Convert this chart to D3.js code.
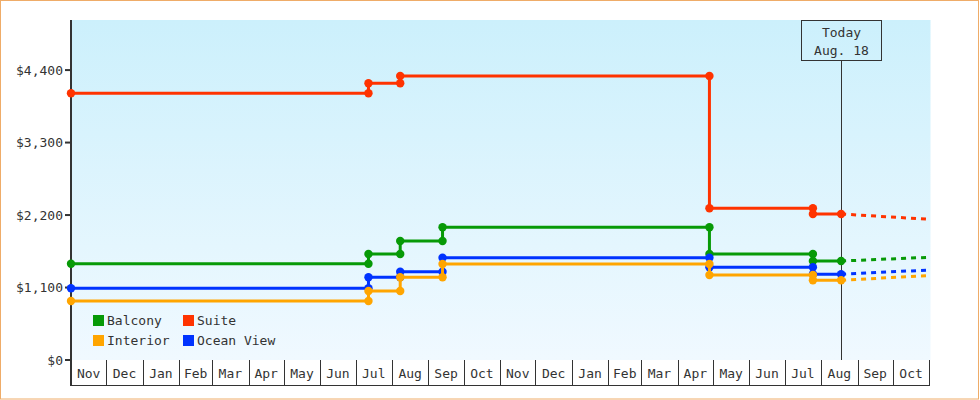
<!DOCTYPE html>
<html>
<head>
<meta charset="utf-8">
<script src="https://cdn.jsdelivr.net/npm/d3@7"></script>
<style>
  html, body { margin: 0; padding: 0; background: #fff; }
  svg { display: block; }
  text { font-family: "DejaVu Sans Mono", monospace; font-size: 13px; fill: #333; }
</style>
</head>
<body>
<svg id="chart" width="980" height="400"></svg>
<script>
// ---- data ----
const axisStart = "2016-11-01";
const axisEnd = "2018-11-01";
const todayDate = "2018-08-18";
const todayLabel = ["Today", "Aug. 18"];
const yTicks = [0, 1100, 2200, 3300, 4400];
const monthLabels = ["Nov","Dec","Jan","Feb","Mar","Apr","May","Jun","Jul","Aug","Sep","Oct",
                     "Nov","Dec","Jan","Feb","Mar","Apr","May","Jun","Jul","Aug","Sep","Oct"];

const seriesNames = ["Balcony", "Suite", "Interior", "Ocean View"];
const seriesColors = ["#079a07", "#ff3300", "#ffa500", "#0033ff"];

// price change dates (value applies from that date on)
const balconyDates = ["2016-11-01","2017-07-12","2017-08-08","2017-09-13","2018-04-28","2018-07-25"];
const balconyValues = [1461, 1609, 1806, 2014, 1609, 1502];
const suiteDates = ["2016-11-01","2017-07-12","2017-08-08","2018-04-28","2018-07-25"];
const suiteValues = [4048, 4199, 4310, 2302, 2216];
const interiorDates = ["2016-11-01","2017-07-12","2017-08-08","2017-09-13","2018-04-28","2018-07-25"];
const interiorValues = [895, 1047, 1255, 1457, 1290, 1210];
const oceanDates = ["2016-11-01","2017-07-12","2017-08-08","2017-09-13","2018-04-28","2018-07-25"];
const oceanValues = [1088, 1255, 1340, 1553, 1407, 1301];

// forecast (dashed) from today to end
const forecastDates = ["2018-08-18", "2018-11-01"];
const forecastBalcony = [1502, 1559];
const forecastSuite = [2216, 2135];
const forecastInterior = [1210, 1282];
const forecastOcean = [1301, 1366];

// ---- chart ----
const parse = d3.utcParse("%Y-%m-%d");
const svg = d3.select("#chart");

const x = d3.scaleUtc().domain([parse(axisStart), parse(axisEnd)]).range([71, 929.3]);
const y = d3.scaleLinear().domain([0, 5160]).range([360, 20]);

// outer border
svg.append("rect").attr("x", 0.5).attr("y", 0.5).attr("width", 978).attr("height", 398.5)
  .attr("fill", "#fff").attr("stroke", "#efac68").attr("stroke-width", 1);

// background gradient
const defs = svg.append("defs");
const grad = defs.append("linearGradient").attr("id", "bg").attr("x1", 0).attr("y1", 0).attr("x2", 0).attr("y2", 1);
grad.append("stop").attr("offset", "0%").attr("stop-color", "#ccf0fc");
grad.append("stop").attr("offset", "100%").attr("stop-color", "#f0f9ff");
svg.append("rect").attr("x", 71).attr("y", y(5160)).attr("width", 930.5 - 71).attr("height", y(0) - y(5160))
  .attr("fill", "url(#bg)");

// month cells
const months = d3.utcMonths(parse(axisStart), parse(axisEnd));
const xa = svg.append("g");
months.forEach((m, i) => {
  const next = d3.utcMonth.offset(m, 1);
  const x0 = x(m), x1 = x(next);
  xa.append("line").attr("x1", Math.round(x0) + 0.5).attr("x2", Math.round(x0) + 0.5)
    .attr("y1", 360).attr("y2", 385).attr("stroke", "#333").attr("stroke-width", 1);
  xa.append("text").attr("x", (x0 + x1) / 2).attr("y", 378).attr("text-anchor", "middle").text(monthLabels[i]);
});
xa.append("line").attr("x1", Math.round(x(parse(axisEnd))) + 0.5).attr("x2", Math.round(x(parse(axisEnd))) + 0.5)
  .attr("y1", 360).attr("y2", 385).attr("stroke", "#333");
xa.append("line").attr("x1", 70).attr("x2", Math.round(x(parse(axisEnd))) + 1)
  .attr("y1", 385.5).attr("y2", 385.5).attr("stroke", "#333");

// y axis
const ya = svg.append("g");
ya.append("line").attr("x1", 71).attr("x2", 71).attr("y1", 20).attr("y2", 385)
  .attr("stroke", "#333").attr("stroke-width", 2);
yTicks.forEach(t => {
  ya.append("line").attr("x1", 65).attr("x2", 71).attr("y1", y(t)).attr("y2", y(t))
    .attr("stroke", "#333").attr("stroke-width", 2);
  ya.append("text").attr("x", 63).attr("y", y(t) + 4.5).attr("text-anchor", "end")
    .text("$" + d3.format(",")(t));
});

// today marker
const tx = Math.round(x(parse(todayDate))) + 0.5;
svg.append("line").attr("x1", tx).attr("x2", tx).attr("y1", 60.5).attr("y2", 360)
  .attr("stroke", "#333").attr("stroke-width", 1);
svg.append("rect").attr("x", 801.5).attr("y", 20.5).attr("width", 80).attr("height", 40)
  .attr("fill", "none").attr("stroke", "#333").attr("stroke-width", 1);
svg.append("text").attr("x", 841.5).attr("y", 37).attr("text-anchor", "middle").text(todayLabel[0]);
svg.append("text").attr("x", 841.5).attr("y", 55).attr("text-anchor", "middle").text(todayLabel[1]);

// series
const series = [
  { dates: balconyDates, values: balconyValues, fd: forecastDates, fv: forecastBalcony, color: seriesColors[0] },
  { dates: suiteDates, values: suiteValues, fd: forecastDates, fv: forecastSuite, color: seriesColors[1] },
  { dates: interiorDates, values: interiorValues, fd: forecastDates, fv: forecastInterior, color: seriesColors[2] },
  { dates: oceanDates, values: oceanValues, fd: forecastDates, fv: forecastOcean, color: seriesColors[3] }
];
const drawOrder = [1, 0, 3, 2];
const line = d3.line().x(d => x(d[0])).y(d => y(d[1]));

drawOrder.forEach(si => {
  const s = series[si];
  const pts = [];
  const markers = [];
  s.dates.forEach((ds, i) => {
    const d = parse(ds);
    if (i > 0) { pts.push([d, s.values[i - 1]]); markers.push([d, s.values[i - 1]]); }
    pts.push([d, s.values[i]]);
    markers.push([d, s.values[i]]);
  });
  const today = parse(todayDate);
  pts.push([today, s.values[s.values.length - 1]]);
  markers.push([today, s.values[s.values.length - 1]]);

  const g = svg.append("g");
  // forecast dashed
  g.append("path").datum(s.fd.map((d, i) => [parse(d), s.fv[i]]))
    .attr("d", line).attr("fill", "none").attr("stroke", s.color)
    .attr("stroke-width", 3).attr("stroke-dasharray", "5,5");
  g.append("path").datum(pts).attr("d", line).attr("fill", "none")
    .attr("stroke", s.color).attr("stroke-width", 3).attr("stroke-linejoin", "miter");
  g.selectAll("circle").data(markers).join("circle")
    .attr("cx", d => x(d[0])).attr("cy", d => y(d[1])).attr("r", 4.2).attr("fill", s.color);
});

// legend
const legendPos = [[93, 315], [183, 315], [93, 335], [183, 335]];
seriesNames.forEach((n, i) => {
  const [lx, ly] = legendPos[i];
  svg.append("rect").attr("x", lx).attr("y", ly).attr("width", 11).attr("height", 11).attr("fill", seriesColors[i]);
  svg.append("text").attr("x", lx + 14).attr("y", ly + 10).text(n);
});
</script>
</body>
</html>
